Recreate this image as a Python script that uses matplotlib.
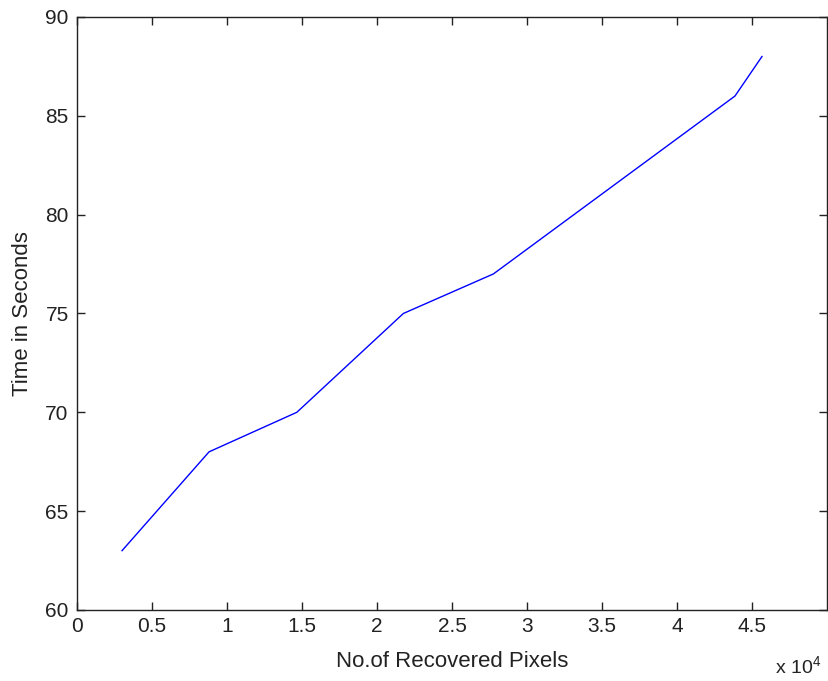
import matplotlib
matplotlib.use('Agg')
import matplotlib.pyplot as plt

# Data
recovered_pixels = [3000, 8800, 14650, 21750, 27750, 43850, 45650]
time_seconds = [63, 68, 70, 75, 77, 86, 88]

x_ticks = [0, 5000, 10000, 15000, 20000, 25000, 30000, 35000, 40000, 45000]
x_tick_labels = ['0', '0.5', '1', '1.5', '2', '2.5', '3', '3.5', '4', '4.5']
y_ticks = [60, 65, 70, 75, 80, 85, 90]

plt.rcParams['font.family'] = ['Liberation Sans', 'DejaVu Sans']
plt.rcParams['mathtext.fontset'] = 'custom'
plt.rcParams['mathtext.rm'] = 'Liberation Sans'

fig = plt.figure(figsize=(8.29, 6.81), dpi=100)
ax = fig.add_axes([0.0929, 0.1043, 0.905, 0.8708])

ax.plot(recovered_pixels, time_seconds, color='#0000ff', linewidth=1.0)

ax.set_xlim(0, 50000)
ax.set_ylim(60, 90)
ax.set_xticks(x_ticks)
ax.set_xticklabels(x_tick_labels)
ax.set_yticks(y_ticks)

ax.tick_params(direction='in', top=True, right=True, length=6, width=1,
               labelsize=15, colors='#222222')
ax.tick_params(axis='x', pad=5)
ax.tick_params(axis='y', pad=6)
for s in ax.spines.values():
    s.set_linewidth(1.0)
    s.set_color('#222222')

ax.set_xlabel('No.of Recovered Pixels', fontsize=16, labelpad=11, color='#222222')
ax.set_ylabel('Time in Seconds', fontsize=16, labelpad=9, color='#222222')

fig.text(0.935, 0.01, r'x 10$^\mathregular{4}$', fontsize=14, ha='left',
         va='baseline', color='#222222')

fig.savefig('out.png', dpi=100)
